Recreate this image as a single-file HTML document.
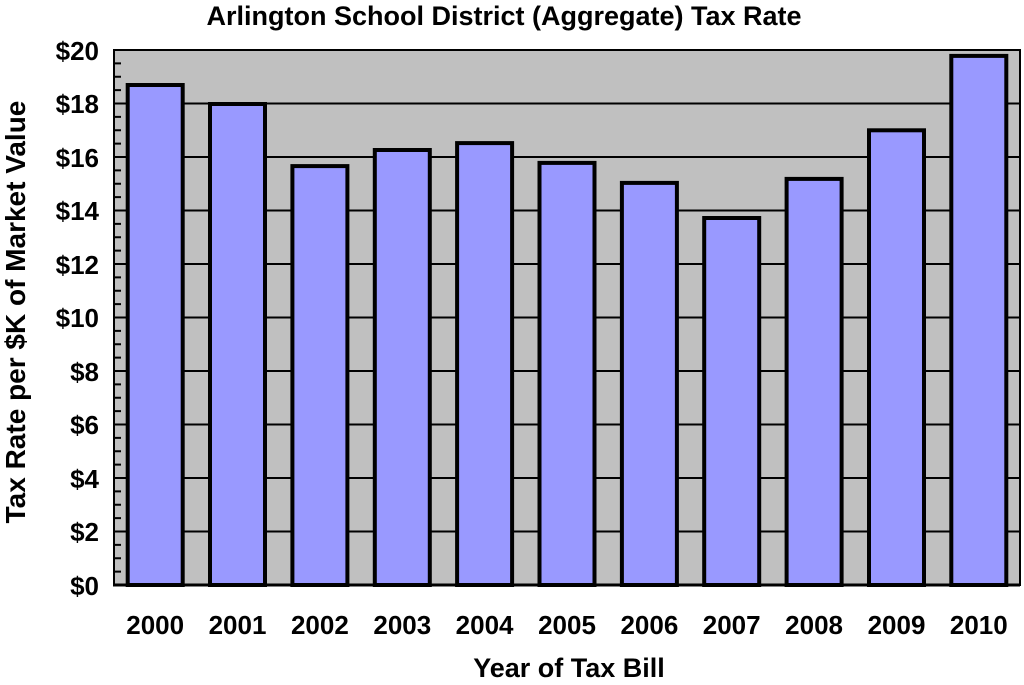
<!DOCTYPE html>
<html><head><style>body{margin:0;background:#fff}</style></head><body>
<svg width="1024" height="680" xmlns="http://www.w3.org/2000/svg" font-family="Liberation Sans, Arial, sans-serif" font-weight="bold">
<rect x="0" y="0" width="1024" height="680" fill="#fff"/>
<text x="504" y="25" font-size="27" text-anchor="middle">Arlington School District (Aggregate) Tax Rate</text>
<rect x="114" y="50" width="906" height="535" fill="#c0c0c0" stroke="#000" stroke-width="2"/>
<g stroke="#000" stroke-width="2">
<line x1="114" y1="103.5" x2="1020" y2="103.5"/><line x1="114" y1="157" x2="1020" y2="157"/>
<line x1="114" y1="210.5" x2="1020" y2="210.5"/><line x1="114" y1="264" x2="1020" y2="264"/>
<line x1="114" y1="317.5" x2="1020" y2="317.5"/><line x1="114" y1="371" x2="1020" y2="371"/>
<line x1="114" y1="424.5" x2="1020" y2="424.5"/><line x1="114" y1="478" x2="1020" y2="478"/>
<line x1="114" y1="531.5" x2="1020" y2="531.5"/>
</g>
<path stroke="#000" stroke-width="2" d="M114 63.4h7M114 76.8h7M114 90.1h7M114 116.9h7M114 130.3h7M114 143.6h7M114 170.4h7M114 183.8h7M114 197.1h7M114 223.9h7M114 237.3h7M114 250.6h7M114 277.4h7M114 290.8h7M114 304.1h7M114 330.9h7M114 344.3h7M114 357.6h7M114 384.4h7M114 397.8h7M114 411.1h7M114 437.9h7M114 451.3h7M114 464.6h7M114 491.4h7M114 504.8h7M114 518.1h7M114 544.9h7M114 558.3h7M114 571.6h7"/>
<g fill="#9999ff" stroke="#000" stroke-width="4">
<rect x="127.7" y="85" width="55" height="500"/>
<rect x="210" y="104" width="55" height="481"/>
<rect x="292.4" y="166.1" width="55" height="418.9"/>
<rect x="374.8" y="150" width="55" height="435"/>
<rect x="457.1" y="143.1" width="55" height="441.9"/>
<rect x="539.5" y="162.9" width="55" height="422.1"/>
<rect x="621.9" y="182.9" width="55" height="402.1"/>
<rect x="704.2" y="218" width="55" height="367"/>
<rect x="786.6" y="178.9" width="55" height="406.1"/>
<rect x="869" y="130.3" width="55" height="454.7"/>
<rect x="951.3" y="55.9" width="55" height="529.1"/>
</g>
<line x1="113" y1="585" x2="1020" y2="585" stroke="#000" stroke-width="3"/>
<g font-size="26" text-anchor="end">
<text x="99" y="60">$20</text><text x="99" y="113">$18</text><text x="99" y="167">$16</text>
<text x="99" y="220">$14</text><text x="99" y="274">$12</text><text x="99" y="327">$10</text>
<text x="99" y="381">$8</text><text x="99" y="434">$6</text><text x="99" y="488">$4</text>
<text x="99" y="541">$2</text><text x="99" y="595">$0</text>
</g>
<g font-size="26" text-anchor="middle">
<text x="155.2" y="634">2000</text><text x="237.5" y="634">2001</text><text x="319.9" y="634">2002</text>
<text x="402.3" y="634">2003</text><text x="484.6" y="634">2004</text><text x="567" y="634">2005</text>
<text x="649.4" y="634">2006</text><text x="731.7" y="634">2007</text><text x="814.1" y="634">2008</text>
<text x="896.5" y="634">2009</text><text x="978.8" y="634">2010</text>
</g>
<text x="569" y="677" font-size="27" text-anchor="middle">Year of Tax Bill</text>
<text transform="translate(25,312) rotate(-90)" font-size="28" text-anchor="middle">Tax Rate per $K of Market Value</text>
</svg>
</body></html>
